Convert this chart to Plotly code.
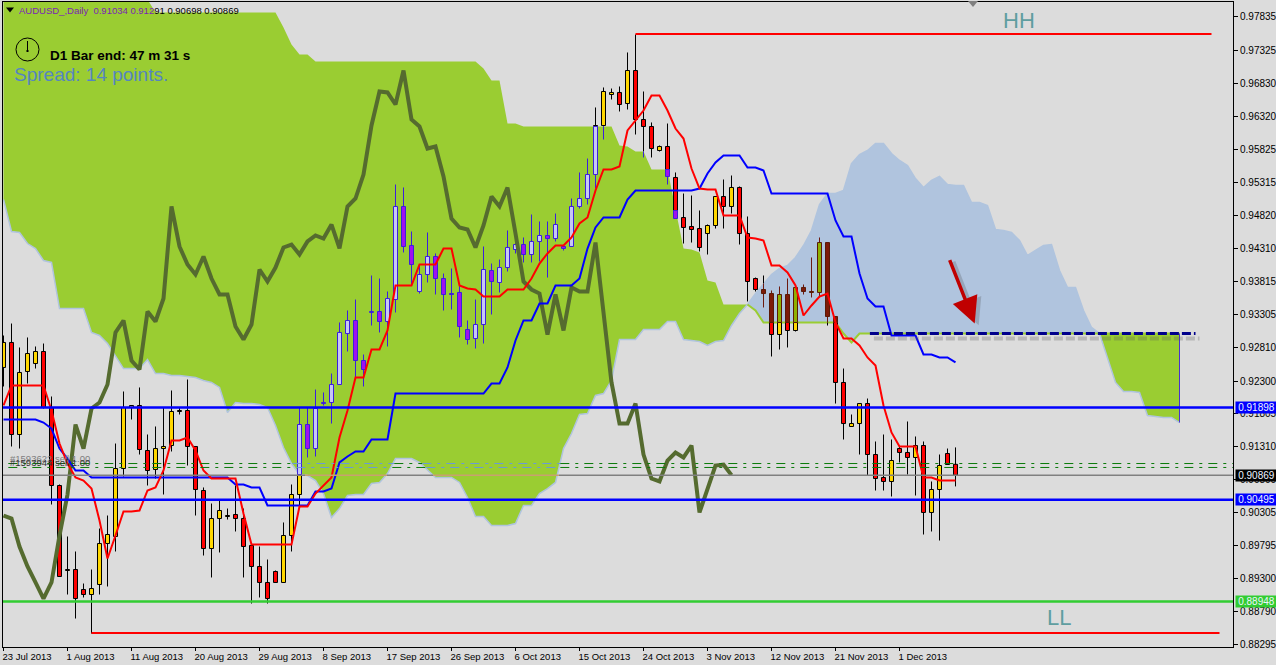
import plotly.graph_objects as go

# ---------- data (prices in points, 1 point = 0.00001) ----------
PT = 1e-5
opens = [92506,92886,91487,92445,92566,92749,91898,90712,89420,89435,89131,89055,89207,89830,89937,90970,91898,91928,91244,90955,
91274,91320,91837,91852,91305,90636,89754,90210,90241,90271,90210,89800,89481,89238,89405,89238,89952,90575,91639,91274,
91958,91974,92247,93022,93220,92612,93342,93357,93205,93539,94953,94360,93661,93919,94193,93858,93630,93646,93083,92946,
93159,93980,93798,94025,94299,94375,94223,94421,94512,94466,94345,94345,94953,95074,95439,96184,96655,96686,96518,97020,
96275,96169,95804,95865,95394,94785,94649,94618,94542,94664,95105,94953,95242,94542,93858,93691,93630,93007,93615,93068,
93722,93646,93646,94405,93281,92278,91609,91654,91958,91183,90833,90773,91274,91214,91138,91320,90302,90651,91198,91034]
highs = [92992,93174,92810,92962,92825,92870,92065,90727,89937,89709,89222,89435,90058,90256,91350,92141,91928,92202,91487,91609,
91898,92156,91898,92323,91305,90682,90438,90499,90362,90712,90362,89800,89785,89587,89420,90150,90727,91898,91898,92171,
92126,92414,93190,93372,93539,92703,93904,93858,93661,95287,95242,94573,94071,94558,94239,93934,94010,93752,93220,93539,
94345,94086,94147,94588,94482,94482,94831,94725,94725,94846,94345,95074,95470,95682,96458,96762,96746,96777,97294,97567,
96701,96230,95880,96214,95470,95150,95120,94892,94679,95105,95363,95424,95257,94801,93873,93904,93676,93737,93858,93722,
93767,94178,94482,94405,93281,92490,91791,91958,92034,91381,91487,91411,91320,91685,91457,91381,90773,91183,91274,91291]
lows = [92217,91305,91274,92262,92490,91882,90423,89329,89055,88690,89010,88462,89055,89177,89709,90849,91715,91183,90712,90818,
90575,91229,91791,91016,90256,89648,89314,89694,90195,90013,89314,88918,89010,88918,89238,89238,89709,90378,91138,91153,
91928,91654,92247,92749,92354,92217,93144,93038,92825,93342,94254,93752,93630,93798,93615,93372,93387,92962,92855,92794,
92870,93311,93646,93965,94239,94102,94102,94117,93873,94421,94284,94345,94922,94983,95226,95971,96579,96397,96427,96047,
95698,95698,95789,95287,94770,94390,94405,94269,94223,94618,94618,94846,94375,93509,93661,93418,92673,92779,92810,93053,
93615,93570,93570,93144,91958,91411,91609,91183,90864,90636,90636,90545,91062,90879,90560,89967,90013,89876,91031,90698]
closes = [92886,91487,92430,92718,92749,91898,90712,89329,89435,88994,89055,89146,89830,89967,90970,91898,91928,91259,90940,91274,
91305,91837,91852,91305,90651,89754,90210,90332,90256,90210,89785,89481,89238,88994,89238,89952,90575,91639,91274,91882,
91974,92247,93038,93220,92612,92475,93357,93205,93554,94953,94345,94071,93919,94193,93858,93615,93615,93129,92931,93159,
93995,93813,94025,94330,94375,94223,94421,94512,94466,94679,94315,94953,95074,95439,96184,96701,96686,96503,97020,96275,
96169,95834,95865,95409,94770,94634,94603,94330,94664,95105,94953,95242,94542,93813,93691,93630,93007,93615,93068,93722,
93661,93661,94405,93281,92278,91654,91654,91958,91183,90818,90773,91092,91214,91138,91320,90302,90651,91016,91031,90869]
tenkan = [91928,92232,92232,92232,92232,92232,91852,91350,91046,90834,90788,90666,90180,89602,89952,90317,90317,90332,90636,90682,
90940,91396,91396,91442,91244,90940,90818,90818,90818,90818,90286,89815,89815,89815,89815,89815,89815,90393,90393,90590,
90712,90834,91442,91852,92354,92354,92779,92779,93068,93752,93752,93752,94071,94071,94071,94314,94314,93752,93706,93691,
93585,93585,93585,93691,93691,93691,93858,94086,94239,94360,94360,94482,94694,94786,95196,95515,95515,95561,96108,96260,
96412,96640,96640,96412,96138,95986,95530,95226,95211,95211,94816,94816,94816,94482,94466,94436,94056,94056,93950,93752,
93296,93448,93585,93630,93190,92946,92946,92840,92658,92536,91928,91518,91305,91305,91305,90834,90834,90788,90788,90788]
kijun = [91715,91715,91715,91715,91715,91669,91578,91274,91122,90940,90940,90834,90834,90834,90834,90834,90834,90834,90834,90834,
90834,90834,90834,90834,90834,90834,90834,90834,90834,90727,90727,90682,90682,90408,90408,90408,90408,90408,90408,90621,
90621,90666,91062,91153,91229,91229,91411,91411,91411,92110,92110,92110,92110,92110,92110,92110,92110,92110,92110,92110,
92110,92262,92262,92506,92916,93220,93220,93478,93478,93752,93752,93752,93858,94314,94634,94786,94786,94786,95059,95196,
95196,95196,95196,95196,95196,95196,95196,95226,95454,95622,95728,95728,95728,95546,95546,95500,95150,95150,95150,95150,
95150,95150,95150,95150,94740,94497,94497,93934,93554,93433,93433,92992,92992,92992,92992,92703,92703,92658,92658,92582]
chikou = [90256,90210,89785,89481,89238,88994,89238,89952,90575,91639,91274,91882,91974,92247,93038,93220,92612,92475,93357,93205,
93554,94953,94345,94071,93919,94193,93858,93615,93615,93129,92931,93159,93995,93813,94025,94330,94375,94223,94421,94512,
94466,94679,94315,94953,95074,95439,96184,96701,96686,96503,97020,96275,96169,95834,95865,95409,94770,94634,94603,94330,
94664,95105,94953,95242,94542,93813,93691,93630,93007,93615,93068,93722,93661,93661,94405,93281,92278,91654,91654,91958,
91183,90818,90773,91092,91214,91138,91320,90302,90651,91016,91031,90869]
span_a = [95059,94573,94558,94390,94314,94132,94102,93402,93402,93402,93402,93038,92992,92870,92688,92490,92490,92490,92627,92414,
92414,92384,92384,92369,92354,92308,92278,92202,91822,91974,91958,91958,91943,91898,91624,91290,91046,90879,90864,90788,
90590,90226,90362,90560,90575,90575,90742,90758,90894,91122,91122,91122,91062,90940,90834,90834,90834,90758,90530,90241,
90241,90104,90104,90104,90134,90408,90408,90590,90666,90758,91274,91502,91791,91806,92080,92110,92308,92931,92931,92931,
93083,93083,93083,93205,93205,92931,92916,92901,92840,92901,92916,93144,93326,93463,93630,93782,93919,94010,94056,94178,
94360,94588,94983,95150,95150,95196,95606,95743,95804,95910,95910,95758,95652,95576,95378,95242,95348,95409,95287,95272,
95272,95014,95014,94968,94603,94588,94558,94436,94208,94284,94360,94375,93980,93722,93722,93372,93114,93022,92658,92278,
92141,92141,92126,91776,91761,91746,91746,91669]
span_b = [98100]*19 + [97902]*16 + [97674,97415,97263,97263] + [97157]*21 + [97050,96868,96868,96214,96214] + [96169]*12 + \
[95880,95865,95789,95789,95515,95515,95515,94892,94314,94299,94254,93828,93798,93463,93463,93463,93463,93372] + [93190]*10 + \
[93022,92886] + [93022]*41

date_pos = [0,8,16,24,32,40,48,56,64,72,80,88,96,104,112]
date_labels = ["23 Jul 2013","1 Aug 2013","11 Aug 2013","20 Aug 2013","29 Aug 2013","8 Sep 2013","17 Sep 2013","26 Sep 2013",
               "6 Oct 2013","15 Oct 2013","24 Oct 2013","3 Nov 2013","12 Nov 2013","21 Nov 2013","1 Dec 2013"]
price_ticks = [97835,97325,96830,96320,95825,95315,94820,94310,93815,93305,92810,92300,91805,91310,90800,90305,89795,89300,88790,88295]

level_hi = 91898
level_lo = 90495
level_support = 88948
level_bid = 90869
order_a = 91046
order_b = 90986
hh_level = 97575
ll_level = 88470
trend_level = 93022

# ---------- styles ----------
BG = '#dcdcdc'
GREEN = '#9acd32'
STEEL = '#b0c4de'
STYLE = {
    'plain': {'up': '#ffd700', 'down': '#ff0000', 'edge': '#000000', 'wick': '#000000'},
    'green': {'up': '#c6c8f4', 'down': '#a010f0', 'edge': '#3c1fdc', 'wick': '#3c1fdc'},
    'blue':  {'up': '#8fb000', 'down': '#7d1a08', 'edge': '#5a1a08', 'wick': '#6b1a10'},
}
L, T, PW, PH = 3, 2, 1230, 645
Y_TOP = 98084 - 15.2 * (T - 0.5)
Y_BOT = 98084 - 15.2 * (T + PH - 0.5)
X0 = -0.5 / 8
X1 = X0 + PW / 8
HALF = 0.25
def pxx(p): return (p - L) / PW
def pxy(p): return 1 - (p - T) / PH
def P(v): return [None if a is None else a * PT for a in v] if isinstance(v, list) else v * PT

n_cloud = len(span_a)
def cloud_at(i):
    a, b = span_a[i], span_b[i]
    return min(a, b), max(a, b), ('blue' if a > b else 'green')

def split(lo, hi, i):
    """split a price interval into pieces inside / outside the cloud"""
    if i >= n_cloud:
        return [(lo, hi, 'plain')]
    c0, c1, kind = cloud_at(i)
    if lo == hi:
        return [(lo, hi, kind if c0 < lo < c1 else 'plain')]
    out = []
    if lo < c0:
        out.append((lo, min(hi, c0), 'plain'))
    if hi > c0 and lo < c1:
        out.append((max(lo, c0), min(hi, c1), kind))
    if hi > c1:
        out.append((max(lo, c1), hi, 'plain'))
    return out

fig = go.Figure()

def line(x, y, color, width, dash=None):
    fig.add_trace(go.Scatter(x=x, y=P(y), mode='lines', line=dict(color=color, width=width, dash=dash), hoverinfo='skip'))

# cloud
def poly(idx, color):
    xs = list(idx) + list(idx)[::-1]
    ys = [span_a[i] for i in idx] + [span_b[i] for i in idx][::-1]
    fig.add_trace(go.Scatter(x=xs, y=P(ys), fill='toself', fillcolor=color, mode='lines',
                             line=dict(width=0, color=color), hoverinfo='skip'))
poly(range(0, 94), GREEN)
poly(range(93, 138), STEEL)
poly(range(137, 148), GREEN)
line(list(range(n_cloud)), span_a, STEEL, 1.5)
line(list(range(93, n_cloud)), span_b[93:], GREEN, 2)
line([147, 147], [span_b[147], span_a[147]], '#4a2fd0', 1)

# candles: wicks, then bodies as rectangles on the data scales
wx = {k: [] for k in STYLE}
wy = {k: [] for k in STYLE}
bx = {(k, d): [] for k in STYLE for d in ('up', 'down')}
by = {(k, d): [] for k in STYLE for d in ('up', 'down')}
for i in range(len(opens)):
    o, h, l, c = opens[i], highs[i], lows[i], closes[i]
    d = 'up' if c >= o else 'down'
    for a, b, k in split(l, h, i):
        wx[k] += [i, i, None]
        wy[k] += [a, b, None]
    lo, hi = min(o, c), max(o, c)
    for a, b, k in split(lo, hi, i):
        bx[(k, d)] += [i - HALF, i + HALF, i + HALF, i - HALF, i - HALF, None]
        by[(k, d)] += [a, a, b, b, a, None]
for k in STYLE:
    line(wx[k], wy[k], STYLE[k]['wick'], 1)
for (k, d), xs in bx.items():
    if xs:
        fig.add_trace(go.Scatter(x=xs, y=P(by[(k, d)]), mode='lines', fill='toself', fillcolor=STYLE[k][d],
                                 line=dict(color=STYLE[k]['edge'], width=1), hoverinfo='skip'))

# ichimoku lines
line(list(range(len(chikou))), chikou, '#556b2f', 4)
line(list(range(len(kijun))), kijun, '#0000ff', 2)
line(list(range(len(tenkan))), tenkan, '#ff0000', 2)

# horizontal levels, tinted where they cross the cloud
def inside(level, x):
    i = int(x)
    if i < 0 or i + 1 >= n_cloud:
        return False
    t = x - i
    a = span_a[i] * (1 - t) + span_a[i + 1] * t
    b = span_b[i] * (1 - t) + span_b[i + 1] * t
    return min(a, b) < level < max(a, b) and b > a

def level_segments(level, x_start, x_end):
    segs, step = [], 0.25
    x, cur, st = x_start, inside(level, max(x_start, 0)), x_start
    while x < x_end:
        x += step
        s = inside(level, x) if x < x_end else cur
        if s != cur or x >= x_end:
            segs.append((st, min(x, x_end), cur))
            st, cur = x, s
    return segs

def hline(level, color, tint=None, width=1, dash=None, x_start=X0, x_end=X1):
    for a, b, ins in level_segments(level, x_start, x_end):
        line([a, b], [level, level], tint if (ins and tint) else color, width, dash)

hline(level_bid, '#808080', tint='#c8a070', width=1.5)
hline(order_a, '#0a7a0a', tint='#6a9ad8', dash='9px,6px,3px,6px', x_start=0.6)
hline(order_b, '#0a7a0a', tint='#6a9ad8', dash='9px,6px,3px,6px', x_start=0.6)
for lv, col in ((level_hi, '#0000ff'), (level_lo, '#0000ff'), (level_support, '#32cd32')):
    line([X0, X1], [lv, lv], col, 2.5)
line([79, 151], [hh_level, hh_level], '#ff0000', 2)
line([11, 152], [ll_level, ll_level], '#ff0000', 2)

# dashed trend line with a soft shadow
line([108.8, 149.5], [trend_level - 76, trend_level - 76], 'rgba(90,90,90,0.28)', 4, '9px,3px')
line([108.3, 149], [trend_level, trend_level], '#00008b', 3, '9px,3px')

TICK_FONT = dict(family='Liberation Sans', size=10, color='#000000')
DATE_FONT = dict(family='Liberation Sans', size=9.5, color='#000000')
ann = []
def note(text, px, py, size, color, family='Liberation Sans', anchor='left', **kw):
    ann.append(dict(text=text, xref='paper', yref='paper', x=pxx(px), y=pxy(py), xanchor=anchor, yanchor='middle',
                    showarrow=False, font=dict(family=family, size=size, color=color), **kw))

note('<span style="color:#7a1fb8">AUDUSD_,Daily &nbsp;0.91034 0.912</span><span style="color:#000000">91 0.90698 0.90869</span>',
     17, 10, 9.5, '#000000')
note('<b>D1 Bar end: 47 m 31 s</b>', 48, 56, 13.5, '#000000')
note('Spread: 14 points.', 12, 75, 19, '#5585c0')
note('HH', 1001, 21, 22, '#5f9ea0')
note('LL', 1045, 617, 22, '#5f9ea0')
note('#1593622 sell 1.00', 8, 458, 9.5, '#808080')
note('#1593944 sell 1.00', 8, 462, 9.5, '#303030')
for lv, bg in ((level_hi, '#0000ff'), (level_bid, '#000000'), (level_lo, '#0000ff'), (level_support, '#32cd32')):
    ann.append(dict(text=f'{lv * PT:.5f}', xref='paper', yref='y', x=pxx(1235), y=lv * PT, xanchor='left', yanchor='middle',
                    showarrow=False, bgcolor=bg, width=41, height=11, borderpad=0, align='center',
                    font=dict(family=TICK_FONT['family'], size=10, color='#eef4ff')))
# arrow with shadow
for dx, dy, col, w in ((0.5, -25, 'rgba(60,60,60,0.22)', 3.5), (0, 0, '#c00000', 3.5)):
    ann.append(dict(x=121.4 + dx, y=(93174 + dy) * PT, ax=118.2 + dx, ay=(94162 + dy) * PT, xref='x', yref='y', axref='x', ayref='y',
                    text='', showarrow=True, arrowhead=2, arrowsize=1.5, arrowwidth=w, arrowcolor=col, standoff=0))

shapes = []
def tri(px, py, size, color):
    x0, x1, xm = pxx(px - size), pxx(px + size), pxx(px)
    y0, y1 = pxy(py - size * 0.6), pxy(py + size * 0.6)
    shapes.append(dict(type='path', xref='paper', yref='paper', path=f'M{x0},{y0} L{x1},{y0} L{xm},{y1} Z',
                       fillcolor=color, line=dict(width=0)))
tri(10, 10, 4, '#000000')
tri(973, 4, 5, '#808080')
shapes.append(dict(type='circle', xref='paper', yref='paper', x0=pxx(16), x1=pxx(39), y0=pxy(38), y1=pxy(61),
                   line=dict(color='#000000', width=1), fillcolor='rgba(0,0,0,0)'))
shapes.append(dict(type='line', xref='paper', yref='paper', x0=pxx(27.5), x1=pxx(27.5), y0=pxy(41), y1=pxy(52), line=dict(color='#000000', width=1)))
shapes.append(dict(type='line', xref='paper', yref='paper', x0=pxx(26), x1=pxx(29), y0=pxy(51), y1=pxy(51), line=dict(color='#000000', width=1)))

fig.update_layout(
    width=1276, height=665, autosize=False,
    margin=dict(l=L, r=43, t=T, b=665 - T - PH, pad=0),
    paper_bgcolor=BG, plot_bgcolor=BG,
    showlegend=False,
    annotations=ann, shapes=shapes,
    xaxis=dict(range=[X0, X1], showgrid=False, zeroline=False, showline=True, mirror=True, linecolor='#000000', linewidth=1,
               tickmode='array', tickvals=date_pos, ticktext=date_labels, ticks='outside', ticklen=3, tickcolor='#000000', tickangle=0,
               ticklabelposition='outside right', ticklabelshift=-2, ticklabelstandoff=1, tickfont=DATE_FONT, fixedrange=True, automargin=False),
    yaxis=dict(range=[Y_BOT * PT, Y_TOP * PT], side='right', showgrid=False, zeroline=False, showline=True, mirror=True, linecolor='#000000', linewidth=1,
               tickmode='array', tickvals=[v * PT for v in price_ticks], ticktext=[f'{v * PT:.5f}' for v in price_ticks],
               ticks='outside', ticklen=4, tickcolor='#000000', tickfont=TICK_FONT, fixedrange=True, automargin=False),
)
fig.write_html("out.html", config=dict(displayModeBar=False),
               post_script="document.body.style.margin='0';document.body.style.background='#dcdcdc';")
